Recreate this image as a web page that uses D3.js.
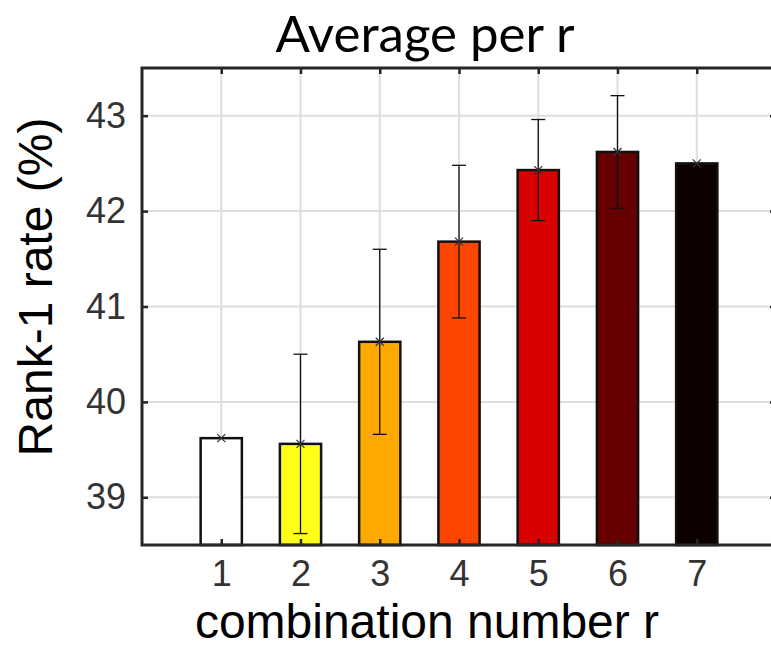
<!DOCTYPE html>
<html>
<head>
<meta charset="utf-8">
<script src="https://cdn.jsdelivr.net/npm/d3@7"></script>
<style>
  body { margin: 0; background: #fff; }
  svg { display: block; }
</style>
</head>
<body>
<div id="chart"></div>
<script>
// data
const categories = [1, 2, 3, 4, 5, 6, 7];
const means = [39.62, 39.56, 40.63, 41.68, 42.43, 42.62, 42.50];
const stds = [0, 0.94, 0.97, 0.80, 0.53, 0.59, 0];
const barColors = ['#ffffff', '#ffff1a', '#ffa800', '#ff4600', '#d90000', '#660000', '#0d0000'];
const yTicks = [39, 40, 41, 42, 43];

const width = 771, height = 649;
const box = { left: 142, right: 776, top: 68, bottom: 545 };

const svg = d3.select('#chart').append('svg')
  .attr('width', width)
  .attr('height', height);

svg.append('rect').attr('width', width).attr('height', height).attr('fill', '#fff');

const x = d3.scaleLinear().domain([0, 8]).range([box.left, box.right]);
const y = d3.scaleLinear().domain([38.5, 43.5]).range([box.bottom, box.top]);

const barW = x(0.52) - x(0);

/// grid
const grid = svg.append('g').attr('stroke', '#dedede').attr('stroke-width', 2);
grid.selectAll('.gx').data(categories).enter().append('line')
  .attr('x1', d => x(d)).attr('x2', d => x(d))
  .attr('y1', box.top).attr('y2', box.bottom);
grid.selectAll('.gy').data(yTicks).enter().append('line')
  .attr('x1', box.left).attr('x2', box.right)
  .attr('y1', d => y(d)).attr('y2', d => y(d));

/// bars
const rows = categories.map((c, i) => ({ c: c, m: means[i], s: stds[i], col: barColors[i] }));

svg.append('g').selectAll('rect').data(rows).enter().append('rect')
  .attr('x', d => x(d.c) - barW / 2)
  .attr('y', d => y(d.m))
  .attr('width', barW)
  .attr('height', d => y(38.5) - y(d.m))
  .attr('fill', d => d.col)
  .attr('stroke', '#111')
  .attr('stroke-width', 2.5);

/// error bars
const err = svg.append('g').attr('stroke', '#111').attr('stroke-width', 1.3).attr('fill', 'none');
const withErr = rows.filter(d => d.s > 0);
err.selectAll('.v').data(withErr).enter().append('line')
  .attr('x1', d => x(d.c)).attr('x2', d => x(d.c))
  .attr('y1', d => y(d.m + d.s)).attr('y2', d => y(d.m - d.s));
err.selectAll('.ct').data(withErr).enter().append('line')
  .attr('x1', d => x(d.c) - 7).attr('x2', d => x(d.c) + 7)
  .attr('y1', d => y(d.m + d.s)).attr('y2', d => y(d.m + d.s));
err.selectAll('.cb').data(withErr).enter().append('line')
  .attr('x1', d => x(d.c) - 7).attr('x2', d => x(d.c) + 7)
  .attr('y1', d => y(d.m - d.s)).attr('y2', d => y(d.m - d.s));

// x markers at the means
const mk = svg.append('g').attr('stroke', '#333').attr('stroke-width', 1.2);
mk.selectAll('.m1').data(rows).enter().append('line')
  .attr('x1', d => x(d.c) - 4).attr('x2', d => x(d.c) + 4)
  .attr('y1', d => y(d.m) - 4).attr('y2', d => y(d.m) + 4);
mk.selectAll('.m2').data(rows).enter().append('line')
  .attr('x1', d => x(d.c) - 4).attr('x2', d => x(d.c) + 4)
  .attr('y1', d => y(d.m) + 4).attr('y2', d => y(d.m) - 4);

/// axes (ticks inward on all four sides)
const tickLen = 6;
const axisColor = '#262626';

svg.append('g').attr('transform', 'translate(0,' + box.bottom + ')')
  .call(d3.axisBottom(x).tickValues(categories).tickSizeInner(-tickLen).tickSizeOuter(0).tickPadding(15).tickFormat(d3.format('d')))
  .call(g => g.select('.domain').remove());
svg.append('g').attr('transform', 'translate(0,' + box.top + ')')
  .call(d3.axisTop(x).tickValues(categories).tickSizeInner(-tickLen).tickSizeOuter(0).tickFormat(''))
  .call(g => g.select('.domain').remove());
svg.append('g').attr('transform', 'translate(' + box.left + ',0)')
  .call(d3.axisLeft(y).tickValues(yTicks).tickSizeInner(-tickLen).tickSizeOuter(0).tickPadding(16).tickFormat(d3.format('d')))
  .call(g => g.select('.domain').remove());
svg.append('g').attr('transform', 'translate(' + box.right + ',0)')
  .call(d3.axisRight(y).tickValues(yTicks).tickSizeInner(-tickLen).tickSizeOuter(0).tickFormat(''))
  .call(g => g.select('.domain').remove());

svg.selectAll('.tick line').attr('stroke', axisColor).attr('stroke-width', 2.5);
svg.selectAll('.tick text')
  .attr('fill', '#333')
  .style('font-family', '"Liberation Sans", Arial, sans-serif')
  .style('font-size', '36px');

svg.append('rect')
  .attr('x', box.left).attr('y', box.top)
  .attr('width', box.right - box.left).attr('height', box.bottom - box.top)
  .attr('fill', 'none').attr('stroke', axisColor).attr('stroke-width', 3);

/// labels
svg.append('text')
  .attr('x', 425).attr('y', 52)
  .attr('text-anchor', 'middle')
  .style('font-family', 'Lato, "Open Sans", sans-serif')
  .style('font-size', '51px')
  .text('Average per r');

svg.append('text')
  .attr('x', 427).attr('y', 638)
  .attr('text-anchor', 'middle')
  .style('font-family', '"Liberation Sans", Arial, sans-serif')
  .style('font-size', '48px')
  .text('combination number r');

svg.append('text')
  .attr('transform', 'translate(52,287) rotate(-90)')
  .attr('text-anchor', 'middle')
  .style('font-family', '"Liberation Sans", Arial, sans-serif')
  .style('font-size', '48px')
  .text('Rank-1 rate (%)');
</script>
</body>
</html>
